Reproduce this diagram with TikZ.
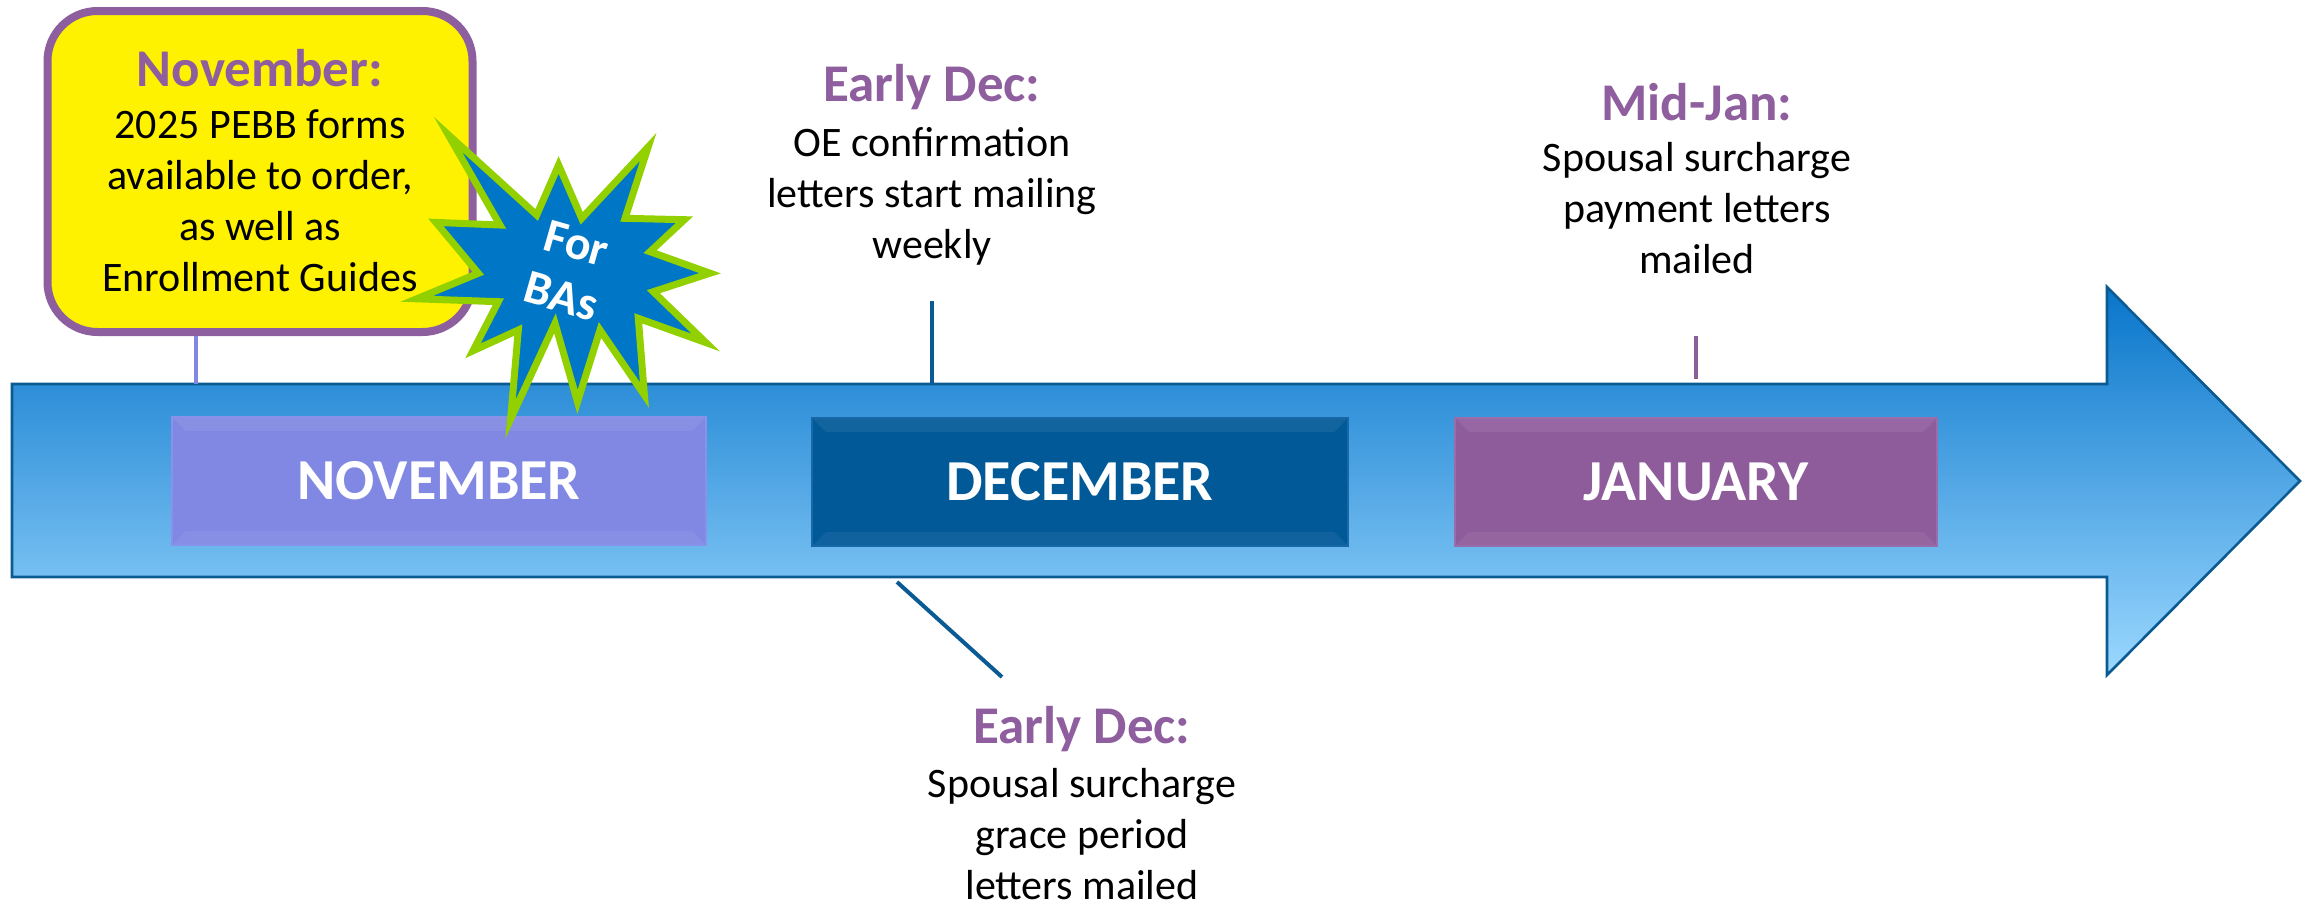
\documentclass[tikz,border=0pt]{standalone}
\usepackage{fontspec}
\setmainfont{Carlito}
\definecolor{hdrpurple}{RGB}{143,94,158}
\definecolor{callpurple}{RGB}{142,95,158}
\definecolor{novfill}{RGB}{128,136,227}
\definecolor{novedge}{RGB}{136,146,232}
\definecolor{decfill}{RGB}{1,89,152}
\definecolor{decedge}{RGB}{22,104,168}
\definecolor{janfill}{RGB}{143,92,155}
\definecolor{janedge}{RGB}{155,108,170}
\definecolor{darkline}{RGB}{10,90,148}
\definecolor{arrowedge}{RGB}{12,90,146}
\definecolor{arrtop}{RGB}{8,117,202}
\definecolor{arrmid}{RGB}{66,164,228}
\definecolor{arrbot}{RGB}{155,216,255}
\definecolor{starfill}{RGB}{0,118,198}
\definecolor{stargreen}{RGB}{146,208,0}
\begin{document}
\begin{tikzpicture}[x=0.5pt,y=-0.5pt,
  hdr/.style={font=\bfseries\fontsize{26.5}{30}\selectfont, text=hdrpurple, inner sep=0pt, anchor=base},
  bodytxt/.style={font=\fontsize{21}{25.5}\selectfont, text=black, inner sep=0pt, anchor=base},
  monthbox/.style={minimum height=64pt, inner sep=0pt, line width=0.6pt,
    font=\bfseries\fontsize{29}{34}\selectfont, text=white,
    path picture={
      \fill[white,opacity=0.07] (path picture bounding box.north west) -- (path picture bounding box.north east)
        -- ([xshift=-7pt,yshift=-7pt]path picture bounding box.north east) -- ([xshift=7pt,yshift=-7pt]path picture bounding box.north west) -- cycle;
      \fill[white,opacity=0.06] (path picture bounding box.south west) -- (path picture bounding box.south east)
        -- ([xshift=-7pt,yshift=7pt]path picture bounding box.south east) -- ([xshift=7pt,yshift=7pt]path picture bounding box.south west) -- cycle;
    }},
  tickline/.style={line width=2pt},
]
\useasboundingbox (0,0) rectangle (2315,905);

% ---- timeline arrow ----
\coordinate (a1) at (12,384);
\coordinate (a2) at (2107,384);
\coordinate (a3) at (2107,287);
\coordinate (a4) at (2300,481);
\coordinate (a5) at (2107,675);
\coordinate (a6) at (2107,577);
\coordinate (a7) at (12,577);
\shade[top color=arrtop, middle color=arrmid, bottom color=arrbot]
  (a1) -- (a2) -- (a3) -- (a4) -- (a5) -- (a6) -- (a7) -- cycle;
\draw[arrowedge, line width=1.3pt, line join=miter]
  (a1) -- (a2) -- (a3) -- (a4) -- (a5) -- (a6) -- (a7) -- cycle;

% ---- month boxes ----
\node[monthbox, minimum width=267pt, fill=novfill, draw=novedge] (nov) at (439,481) {NOVEMBER};
\node[monthbox, minimum width=268pt, fill=decfill, draw=decedge] (dec) at (1080,482) {DECEMBER};
\node[monthbox, minimum width=241pt, fill=janfill, draw=janedge] (jan) at (1696,482) {JANUARY};

% ---- November callout ----
\node[draw=callpurple, fill=yellow, line width=4pt, rounded corners=25pt,
      minimum width=212.5pt, minimum height=160.5pt, inner sep=0pt] (novcall) at (260,171.5) {};
\node[hdr] (novH) at (260,86) {November:};
\node[bodytxt] (novB) at (260,138.3) {\begin{tabular}[t]{@{}c@{}}2025 PEBB forms\\available to order,\\as well as\\Enrollment Guides\end{tabular}};
\coordinate (novTick) at (196,384);
\draw[novfill, tickline] (novcall.south -| novTick) -- (novTick);

% ---- Early Dec (top) ----
\node[hdr] (decTopH) at (932,101.7) {Early Dec:};
\node[bodytxt] (decTopB) at (932,156.7) {\begin{tabular}[t]{@{}c@{}}OE confirmation\\letters start mailing\\weekly\end{tabular}};
\coordinate (decTopA) at (932,301);
\coordinate (decTopZ) at (932,384);
\draw[darkline, tickline] (decTopA) -- (decTopZ);

% ---- Early Dec (bottom) ----
\coordinate (decBotA) at (897,582);
\coordinate (decBotZ) at (1002,677);
\draw[darkline, tickline] (decBotA) -- (decBotZ);
\node[hdr] (decBotH) at (1082,743.3) {Early Dec:};
\node[bodytxt] (decBotB) at (1082,797) {\begin{tabular}[t]{@{}c@{}}Spousal surcharge\\grace period\\letters mailed\end{tabular}};

% ---- Mid-Jan ----
\node[hdr] (janH) at (1697,120) {Mid-Jan:};
\node[bodytxt] (janB) at (1697,171.7) {\begin{tabular}[t]{@{}c@{}}Spousal surcharge\\payment letters\\mailed\end{tabular}};
\coordinate (janTickA) at (1696,336);
\coordinate (janTickZ) at (1696,379);
\draw[janfill, tickline] (janTickA) -- (janTickZ);

% ---- For BAs starburst ----
\draw[fill=starfill, draw=stargreen, line width=3.5pt, line join=miter, miter limit=10]
  (558.6,165) -- (581.7,218.3) -- (648.2,146.9) -- (625,218.3) -- (684.4,219.7) -- (650,251.7)
  -- (710,273.2) -- (653.3,291.7) -- (705.9,342.6) -- (638.3,318.3) -- (644.4,395) -- (600,330)
  -- (577.5,401.8) -- (555,323.3) -- (510.6,419) -- (518.3,330) -- (473,350.8) -- (498.3,301.7)
  -- (416.7,298.8) -- (478.3,273.3) -- (435.9,222.4) -- (500,225) -- (448,134.4) -- (536.7,215) -- cycle;
\node[rotate=-16, align=center, inner sep=0pt, text=white,
      font=\bfseries\fontsize{24}{27.5}\selectfont] (bas) at (569,270) {For\\BAs};
\end{tikzpicture}
\end{document}
